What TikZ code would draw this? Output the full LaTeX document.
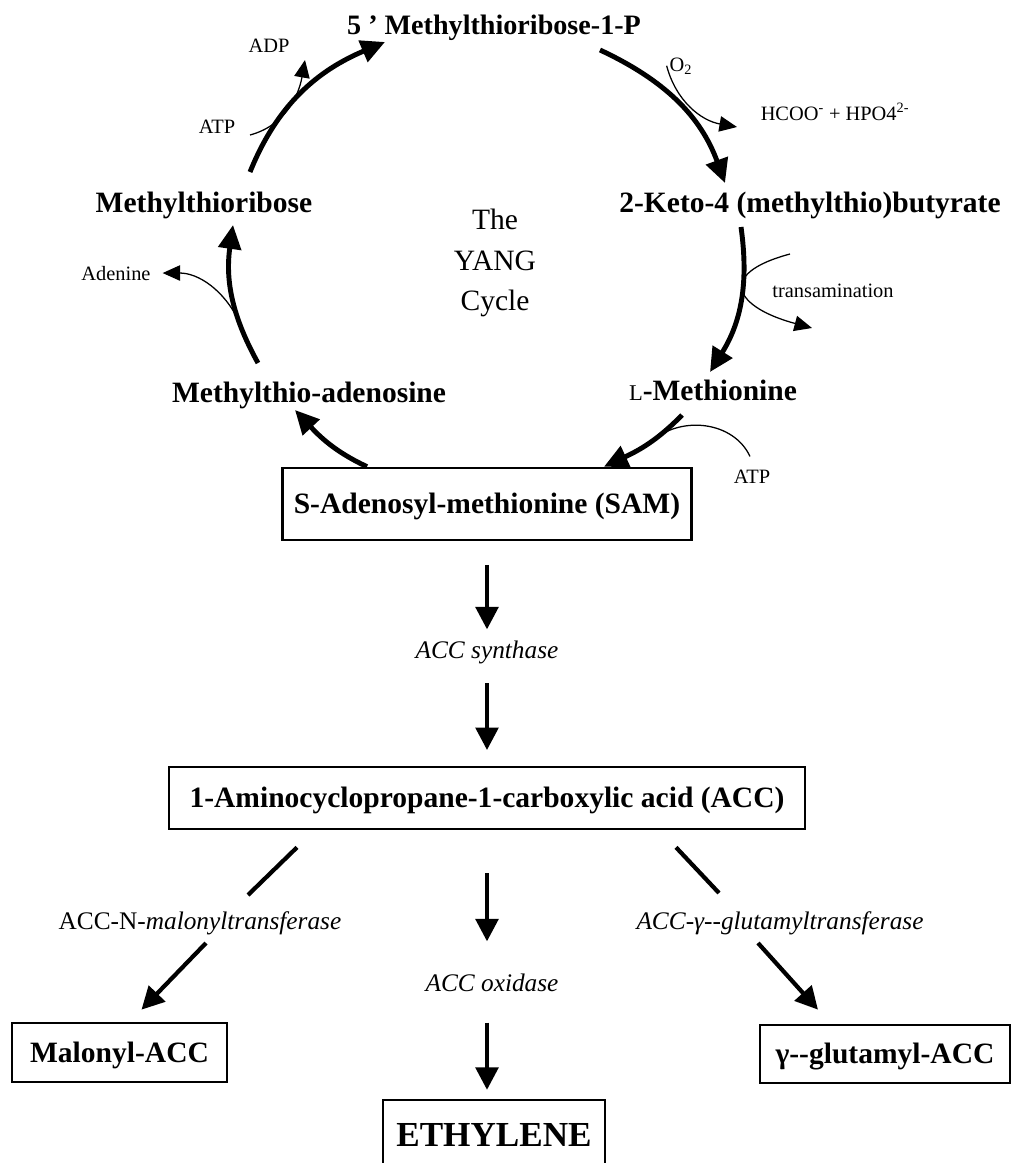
\documentclass[tikz,border=0pt]{standalone}
\usepackage{fontspec}
\setmainfont{Liberation Serif}
\usetikzlibrary{arrows.meta}

\begin{document}
\begin{tikzpicture}[
    x=0.025cm, y=0.025cm,
    >={Triangle[length=17pt,width=16pt]},
    compound/.style={font=\bfseries\fontsize{21}{25}\selectfont, inner sep=2pt},
    cofactor/.style={font=\fontsize{14.5}{17}\selectfont, inner sep=2pt},
    enzyme/.style={font=\itshape\fontsize{18}{21}\selectfont, inner sep=2pt},
    box/.style={
        draw,
        line width=1.9pt,
        inner sep=0pt,
        text height=14pt,
        text depth=0pt,
        font=\bfseries\fontsize{21}{25}\selectfont
    },
    cyc/.style={line width=3.5pt, ->},
    flow/.style={line width=3pt, -{Triangle[length=16pt,width=16pt]}},
    branch/.style={line width=3pt},
    sidearc/.style={line width=0.9pt, -{Triangle[length=12.5pt,width=11pt]}},
    sideline/.style={line width=0.9pt}
]

% page
\path[use as bounding box, fill=white] (0,0) rectangle (1013,-1163);

% compounds of the cycle
\node[compound, anchor=base, font=\bfseries\fontsize{20}{24}\selectfont] (mtrp) at (494,-35) {5 ' Methylthioribose-1-P};
\node[compound, anchor=base] (kmtb) at (810,-212) {2-Keto-4 (methylthio)butyrate};
\node[compound, anchor=base] (mtr) at (204,-212) {Methylthioribose};
\node[compound, anchor=base] (met) at (713,-400) {{\mdseries\fontsize{16}{16}\selectfont L}-Methionine};
\node[compound, anchor=base] (mta) at (309,-402) {Methylthio-adenosine};
\node[align=center, font=\fontsize{21}{28.5}\selectfont] (yang) at (495,-263) {The\\YANG\\Cycle};

% boxes
\node[box, minimum width=10.225cm, minimum height=1.8cm] (sam) at (487,-504) {S-Adenosyl-methionine (SAM)};
\node[box, minimum width=15.9cm, minimum height=1.55cm] (acc) at (487,-798) {1-Aminocyclopropane-1-carboxylic acid (ACC)};
\node[box, minimum width=5.375cm, minimum height=1.475cm] (mal) at (119.5,-1052.5) {Malonyl-ACC};
\node[box, minimum width=6.25cm, minimum height=1.45cm] (glu) at (885,-1054) {γ-{}-glutamyl-ACC};
\node[box, minimum width=5.55cm, minimum height=1.75cm, text height=16.5pt,
    font=\bfseries\fontsize{25}{30}\selectfont] (eth) at (494,-1135) {ETHYLENE};

% cofactors
\node[cofactor, anchor=base] (atpa) at (217,-133) {ATP};
\node[cofactor, anchor=base] (adp) at (269,-53) {ADP};
\node[cofactor, anchor=base] (o2) at (681,-71) {O\textsubscript{2}};
\node[cofactor, anchor=base] (hcoo) at (835,-120) {HCOO\textsuperscript{-} + HPO4\textsuperscript{2-}};
\node[cofactor, anchor=base] (trans) at (833,-297) {transamination};
\node[cofactor, anchor=base] (atpb) at (752,-483) {ATP};
\node[cofactor, anchor=base] (aden) at (116,-280) {Adenine};

% enzymes
\node[enzyme] (syn) at (487,-652) {ACC synthase};
\node[enzyme] (oxi) at (492,-983) {ACC oxidase};
\node[enzyme] (malt) at (200,-923) {{\upshape ACC-N-}malonyltransferase};
\node[enzyme] (glut) at (780,-923) {ACC-γ-{}-glutamyltransferase};

% the cycle
\draw[cyc] ([shift={(-51,39)}]mta.base) to[out=119,in=262] coordinate[pos=0.3] (adj) ([shift={(29,-13)}]mtr.base);
\draw[cyc] ([shift={(46,40)}]mtr.base) to[out=68,in=203] ([shift={(-109,-7)}]mtrp.base);
\draw[cyc] ([shift={(106,-15)}]mtrp.base) to[out=-25,in=110] ([shift={(-85,29)}]kmtb.base);
\draw[cyc] ([shift={(-69,-15)}]kmtb.base) to[out=-82,in=58] ([shift={(-3,28)}]met.base);
\draw[cyc] ([shift={(-31,-15)}]met.base) to[out=-134,in=25] coordinate[pos=0.4] (atpj) ([shift={(117,0)}]sam.north);
\draw[cyc] ([shift={(-120,0)}]sam.north) to[out=155,in=-47] ([shift={(-14,-8)}]mta.base);

% side reactions
\draw[sidearc] ([shift={(33,-2)}]atpa.base) to[out=15,in=260] ([shift={(36,-7)}]adp.base);
\draw[sidearc] (adj) to[out=115,in=0] ([shift={(9,0)}]aden.east);
\draw[sidearc] (o2.west) to[out=-75,in=170] ([shift={(-98,-7)}]hcoo.base);
\draw[sidearc] ([shift={(-43,43)}]trans.base) to[out=195,in=165,looseness=2.6] ([shift={(-21,-31)}]trans.base);
\draw[sideline] ([shift={(-2,10)}]atpb.north) to[out=115,in=40] (atpj);

% pathway below the cycle
\draw[flow, shorten <=0.59cm, shorten >=0.2cm] (sam.south) -- (syn.north);
\draw[flow, shorten <=0.42cm, shorten >=0.39cm] (syn.south) -- (acc.north);
\draw[flow, shorten <=1.07cm, shorten >=0.74cm] (acc.south) -- (acc.south |- oxi.north);
\draw[flow, shorten <=0.69cm, shorten >=0.22cm] (acc.south |- oxi.south) -- (acc.south |- eth.north);

% branches
\draw[branch] ([shift={(-190,-17)}]acc.south) -- ([shift={(48,28)}]malt.center);
\draw[flow] ([shift={(6,-20)}]malt.center) -- ([shift={(22,12)}]mal.north);
\draw[branch] ([shift={(189,-17)}]acc.south) -- ([shift={(-61,30)}]glut.center);
\draw[flow] ([shift={(-22,-20)}]glut.center) -- ([shift={(-67,14)}]glu.north);
\end{tikzpicture}
\end{document}
